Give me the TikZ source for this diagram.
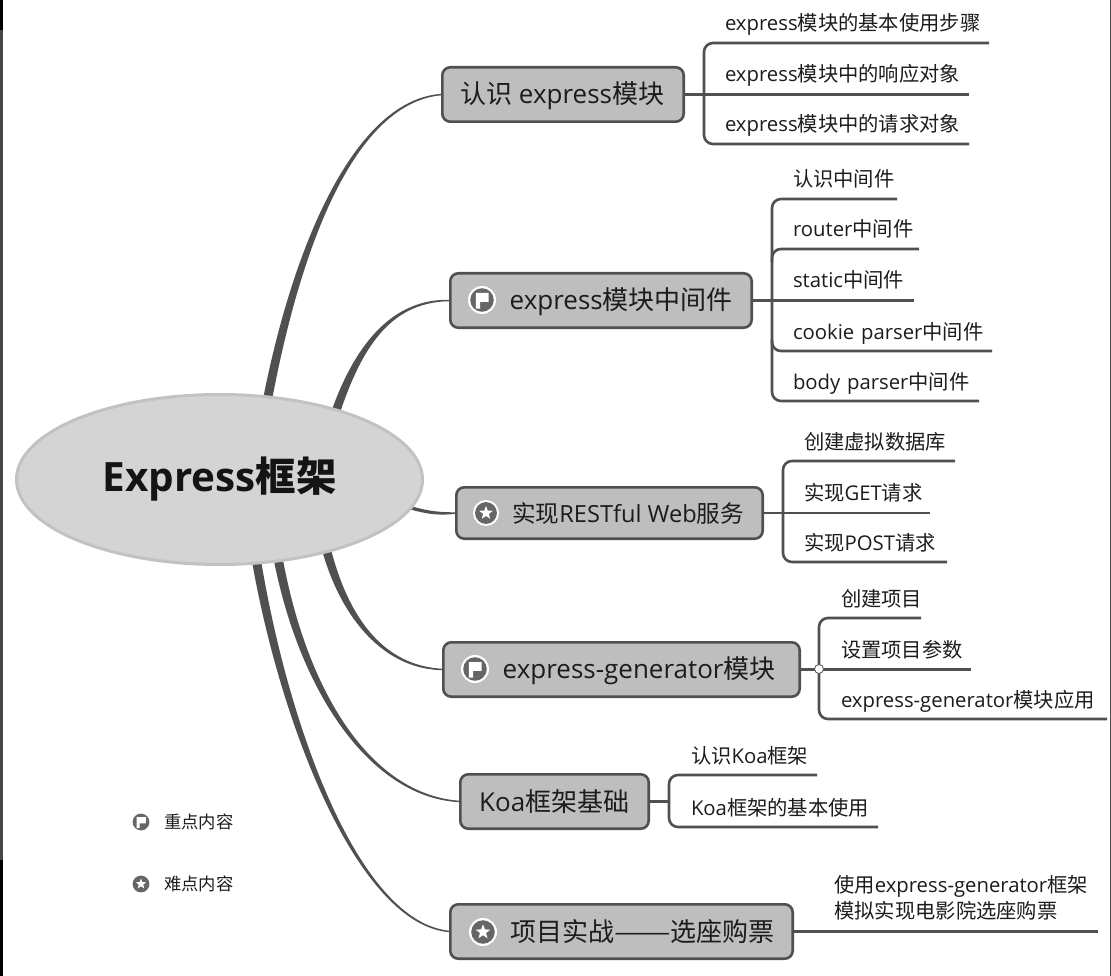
\documentclass[tikz,border=0pt]{standalone}
\usepackage{graphicx}
\usepackage{fontspec}
\setmainfont{Open Sans}
\newfontfamily\cjkf{Noto Sans CJK SC}
\newcommand{\cj}[1]{{\cjkf #1}}
\usetikzlibrary{shapes.geometric,calc,backgrounds}
\definecolor{linegray}{HTML}{505050}
\definecolor{boxfill}{HTML}{BEBEBE}
\definecolor{rootfill}{HTML}{D4D4D4}
\definecolor{rootline}{HTML}{C2C2C2}
\definecolor{inkgray}{HTML}{1C1C1C}
\tikzset{
  x=1pt,y=-1pt,
  rootnode/.style={ellipse,draw=rootline,fill=rootfill,line width=3pt,minimum width=406pt,minimum height=170pt,inner sep=0pt,outer sep=0pt,text=black!92,font=\fontsize{40.4}{44}\selectfont\bfseries},
  topic/.style={draw=linegray,fill=boxfill,line width=2.6pt,rounded corners=8pt,inner sep=0pt,outer sep=0pt,text=inkgray,anchor=north west},
  topiclabel/.style={anchor=west,inner sep=0pt,text=inkgray,font=\fontsize{26}{30}\selectfont},
  br/.style={draw=linegray,line width=2.6pt,rounded corners=9pt},
  stub/.style={draw=linegray,line width=2.6pt},
  leaflabel/.style={anchor=south west,inner sep=0pt,outer sep=0pt,align=left,text=inkgray,text height=16pt,text depth=12pt,font=\fontsize{20.3}{24}\selectfont},
  legendlabel/.style={anchor=west,inner sep=0pt,text=inkgray,font=\fontsize{17.3}{20}\selectfont},
  flagicon/.pic={
    \fill[white] (0,0) circle (#1*1.0);
    \fill[black!60] (0,0) circle (#1*0.84);
    \fill[white] (-0.44*#1,-0.50*#1) -- (0.48*#1,-0.50*#1) -- (0.48*#1,0.14*#1) -- (-0.14*#1,0.14*#1) -- (-0.14*#1,0.62*#1) -- (-0.44*#1,0.62*#1) -- cycle;
  },
  staricon/.pic={
    \fill[white] (0,0) circle (#1*1.0);
    \fill[black!60] (0,0) circle (#1*0.84);
    \node[star,star points=5,star point ratio=2.4,fill=white,inner sep=0pt,minimum size=#1*1.1pt] at (0,0) {};
  },
}
\newcommand{\topicbox}[5]{% name, x1,y1,x2,y2 (outer edges)
  \node[topic,minimum width=#4pt-#2pt-2.6pt,minimum height=#5pt-#3pt-2.6pt] (#1) at (#2+1.3,#3+1.3) {};
}
\newcommand{\leaf}[5]{% name, x, yline, xend, text
  \node[leaflabel,text width=#4pt-#2pt] (#1) at (#2,#3) {#5};
}
\newcommand{\taper}[7]{% base, c1, c2, end point, half width at base, offset direction at base, offset direction at end
  \fill[linegray] ($(#1)+(#6:#5)$) .. controls ($(#2)+(#6:#5*0.85)$) and ($(#3)+(#7:1.7)$) .. ($(#4)+(#7:0.7)$)
    -- ($(#4)+(#7:-0.7)$) .. controls ($(#3)+(#7:-1.7)$) and ($(#2)+(#6:-#5*0.85)$) .. ($(#1)+(#6:-#5)$) -- cycle;
}
\begin{document}
\begin{tikzpicture}
\useasboundingbox (0,0) rectangle (1111,976);

% root and topics
\node[rootnode] (root) at (219.5,479.5) {\raisebox{-1pt}{Express\cj{框架}}};

\topicbox{t1}{441}{66}{685}{123}
\topicbox{t2}{449}{272}{753}{329}
\topicbox{t3}{455}{486}{764}{540}
\topicbox{t4}{442}{641}{801}{698}
\topicbox{t5}{459}{773}{650}{830}
\topicbox{t6}{449}{903}{794}{960}

\node[topiclabel] (tt1) at (460,95.5) {\cj{认识} express\cj{模块}};
\node[topiclabel] (tt2) at (509.5,301.5) {express\cj{模块中间件}};
\node[topiclabel,font=\fontsize{23.6}{28}\selectfont] (tt3) at (512,513) {\cj{实现}RESTful Web\cj{服务}};
\node[topiclabel] (tt4) at (502.5,670.5) {express-generator\cj{模块}};
\node[topiclabel] (tt5) at (479,801.5) {Koa\cj{框架基础}};
\node[topiclabel] (tt6) at (510,932) {\cj{项目实战\scalebox{1.3}[1]{——}选座购票}};

% icons
\pic at (482,300) {flagicon=14};
\pic at (486,513) {staricon=13};
\pic at (475,669) {flagicon=14};
\pic at (483,932) {staricon=14};
\pic at (141,822) {flagicon=10};
\pic at (141,884) {staricon=10};

% legend
\node[legendlabel] (lg1) at (164,822) {\cj{重点内容}};
\node[legendlabel] (lg2) at (164,884) {\cj{难点内容}};

% page, edges and tapered connectors behind the root
\begin{scope}[on background layer]
\fill[white] (0,0) rectangle (1111,976);
\fill[black!72] (0,0) rectangle (3,976);
\fill[black] (0,0) rectangle (3,30);
\fill[black] (0,860) rectangle (3,976);
\fill[black!70] (1109.6,0) rectangle (1111,976);
\coordinate (b1) at (267,402);
\coordinate (b2) at (335,414);
\coordinate (b3) at (408,507);
\coordinate (b4) at (326,548);
\coordinate (b5) at (278,558);
\coordinate (b6) at (256,558);
\coordinate (e1) at (t1.west);
\coordinate (e2) at (t2.west);
\coordinate (e3) at (t3.west);
\coordinate (e4) at (t4.west);
\coordinate (e5) at (t5.west);
\coordinate (e6) at (t6.west);
\taper{b1}{300,230}{360,100}{e1}{4.6}{0}{90}
\taper{b2}{360,340}{395,300}{e2}{4.6}{0}{90}
\taper{b3}{428,513}{440,514}{e3}{1.8}{90}{90}
\taper{b4}{345,620}{385,668}{e4}{4.6}{0}{-90}
\taper{b5}{305,700}{375,797}{e5}{4.6}{0}{-90}
\taper{b6}{285,730}{360,925}{e6}{4.6}{0}{-90}
\end{scope}

% group 1
\leaf{a1}{725}{43}{989}{express\cj{模块的基本使用步骤}}
\leaf{a2}{725}{94}{969}{express\cj{模块中的响应对象}}
\leaf{a3}{725}{144}{969}{express\cj{模块中的请求对象}}
\coordinate (s1t) at (704,43);\coordinate (s1b) at (704,144);
\draw[br] (a1.south east) -- (s1t) -- (s1b) -- (a3.south east);
\draw[stub] (t1.east) -- (t1.east -| a2.south east);

% group 2
\leaf{b1n}{793}{199}{897}{\cj{认识中间件}}
\leaf{b2n}{793}{249}{919}{router\cj{中间件}}
\leaf{b3n}{793}{300}{914}{static\cj{中间件}}
\leaf{b4n}{793}{351}{992}{cookie parser\cj{中间件}}
\leaf{b5n}{793}{401}{979}{body parser\cj{中间件}}
\coordinate (s2t) at (772,199);\coordinate (s2b) at (772,401);
\draw[br] (b1n.south east) -- (s2t) -- (s2b) -- (b5n.south east);
\draw[stub] (t2.east) -- (t2.east -| b3n.south east);
\draw[br] (b2n.south east) -- (772,249) -- (772,262);
\draw[br] (b4n.south east) -- (772,351) -- (772,340);

% group 3
\leaf{c1n}{804}{461}{955}{\cj{创建虚拟数据库}}
\leaf{c2n}{804}{512}{930}{\cj{实现}GET\cj{请求}}
\leaf{c3n}{804}{562}{947}{\cj{实现}POST\cj{请求}}
\coordinate (s3t) at (783,461);\coordinate (s3b) at (783,562);
\draw[br] (c1n.south east) -- (s3t) -- (s3b) -- (c3n.south east);
\draw[stub] (t3.east) -- (t3.east -| c2n.south east);

% group 4
\leaf{d1n}{841}{618}{921}{\cj{创建项目}}
\leaf{d2n}{841}{669}{971}{\cj{设置项目参数}}
\leaf{d3n}{841}{719}{1107}{express-generator\cj{模块应用}}
\coordinate (s4t) at (819,618);\coordinate (s4b) at (819,719);
\draw[br] (d1n.south east) -- (s4t) -- (s4b) -- (d3n.south east);
\draw[stub] (t4.east) -- (t4.east -| d2n.south east);
\node[circle,draw=linegray,fill=white,line width=0.8pt,minimum size=9pt,inner sep=0pt] (knob) at (819,669) {};

% group 5
\leaf{e1n}{691}{775}{817}{\cj{认识}Koa\cj{框架}}
\leaf{e2n}{691}{827}{878}{Koa\cj{框架的基本使用}}
\coordinate (s5t) at (669,775);\coordinate (s5b) at (669,827);
\draw[br] (e1n.south east) -- (s5t) -- (s5b) -- (e2n.south east);
\draw[stub] (t5.east) -- (t5.east -| s5t);

% group 6
\node[anchor=west,inner sep=0pt,text=inkgray,align=left,font=\fontsize{20.3}{26}\selectfont] (f1n) at (834,898) {\cj{使用}express-generator\cj{框架}\\\cj{模拟实现电影院选座购票}};
\coordinate (f1e) at (1098,931);
\draw[stub] (t6.east) -- (t6.east -| f1e);
\end{tikzpicture}
\end{document}
